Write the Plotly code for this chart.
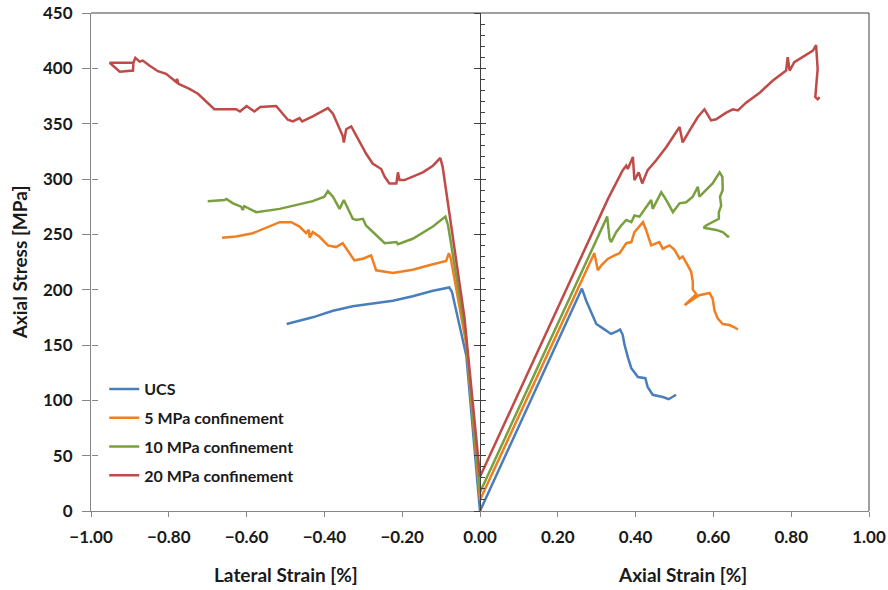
"""
Stress-strain curves: lateral strain (left) and axial strain (right)
"""

import plotly.graph_objects as go

# ---- data ----
series_names = ['UCS', '5 MPa confinement', '10 MPa confinement', '20 MPa confinement']
series_colors = ['#4A7EBB', '#F07F22', '#7A9F3F', '#BE4B48']

# lateral strain branch, from the far end back to zero
ucs_lat_x = [-0.497, -0.430, -0.378, -0.327, -0.224, -0.173, -0.121, -0.079, -0.072, -0.035, 0.0]
ucs_lat_y = [169, 175, 181, 185, 190, 194, 199, 202, 198, 140, 0]
c5_lat_x = [-0.663, -0.627, -0.584, -0.550, -0.515, -0.485, -0.464, -0.447, -0.440, -0.438, -0.430,
            -0.413, -0.391, -0.370, -0.353, -0.323, -0.301, -0.280, -0.267, -0.224, -0.173, -0.121,
            -0.087, -0.080, -0.075, -0.035, 0.0]
c5_lat_y = [247, 248, 251, 256, 261, 261, 257, 251, 254, 247, 252,
            248, 240, 238.5, 242, 226.5, 228, 231, 217.5, 215, 218, 223,
            226, 233, 228, 150, 10]
c10_lat_x = [-0.700, -0.657, -0.652, -0.635, -0.614, -0.610, -0.606, -0.575, -0.515, -0.430, -0.400,
             -0.391, -0.378, -0.361, -0.350, -0.327, -0.318, -0.301, -0.293, -0.276, -0.245, -0.215,
             -0.211, -0.173, -0.121, -0.089, -0.082, -0.037, 0.0]
c10_lat_y = [280, 281, 282, 278, 275, 272, 275.5, 270, 273, 280, 284,
             289, 284, 273, 281, 264, 263, 264, 258, 252, 242, 243,
             241, 246, 257, 266, 258, 160, 17]
c20_lat_x = [-0.892, -0.952, -0.926, -0.892, -0.891, -0.886, -0.875, -0.867, -0.850, -0.828, -0.807,
             -0.781, -0.779, -0.775, -0.747, -0.725, -0.683, -0.627, -0.617, -0.600, -0.580, -0.565,
             -0.524, -0.494, -0.481, -0.464, -0.457, -0.430, -0.391, -0.378, -0.353, -0.350, -0.344,
             -0.331, -0.293, -0.276, -0.254, -0.245, -0.233, -0.215, -0.211, -0.207, -0.194, -0.147,
             -0.121, -0.102, -0.096, -0.091, -0.040, 0.0]
c20_lat_y = [405, 405, 397, 398, 405, 409.5, 406, 407, 402.5, 397.4, 395,
             387.6, 390.5, 386, 381.5, 377, 363, 363, 361, 366, 361, 365,
             366, 353.5, 352, 355, 352, 356.5, 364, 359, 339, 333, 345,
             347.5, 323, 314, 309, 302, 296, 296, 306, 299, 299, 306,
             312, 319, 311, 299, 175, 31]

# axial strain branch, from zero outwards
ucs_ax_x = [0.0, 0.262, 0.273, 0.286, 0.299, 0.316, 0.337, 0.350, 0.360, 0.367, 0.371,
            0.380, 0.389, 0.406, 0.425, 0.431, 0.444, 0.470, 0.485, 0.504]
ucs_ax_y = [0, 201, 190, 180, 169, 165, 160, 162, 164, 159, 151,
            139, 129, 121, 120, 112, 105, 103, 101, 105]
c5_ax_x = [0.0, 0.294, 0.303, 0.312, 0.329, 0.346, 0.359, 0.376, 0.389, 0.397, 0.410,
           0.419, 0.427, 0.440, 0.461, 0.470, 0.487, 0.500, 0.513, 0.521, 0.534, 0.543,
           0.547, 0.547, 0.556, 0.530, 0.526, 0.551, 0.564, 0.590, 0.598, 0.603, 0.611,
           0.624, 0.641, 0.654, 0.663]
c5_ax_y = [10, 233, 217.5, 222, 228, 231, 233, 242, 243, 252, 257,
           261, 254, 240, 243, 237, 240, 236, 228, 230, 222, 216,
           207, 200, 196, 187.5, 186, 192, 195, 197, 192, 181, 174,
           169, 168, 166, 164]
c10_ax_x = [0.0, 0.327, 0.333, 0.337, 0.350, 0.363, 0.376, 0.389, 0.397, 0.410, 0.427,
            0.440, 0.444, 0.466, 0.479, 0.496, 0.513, 0.530, 0.547, 0.560, 0.564, 0.581,
            0.598, 0.616, 0.623, 0.624, 0.617, 0.620, 0.614, 0.614, 0.598, 0.581, 0.575,
            0.590, 0.607, 0.624, 0.637, 0.641]
c10_ax_y = [17, 266, 246, 243, 252, 258, 263, 261, 267, 266, 275,
            281, 273, 288, 281, 270, 278, 279, 284, 293, 284, 290,
            296, 306, 302, 290, 284, 276, 270, 264, 261, 258, 256,
            255, 254, 252, 248, 248]
c20_ax_x = [0.0, 0.329, 0.367, 0.376, 0.380, 0.393, 0.397, 0.408, 0.417, 0.431, 0.453,
            0.474, 0.479, 0.513, 0.521, 0.539, 0.560, 0.577, 0.594, 0.607, 0.633, 0.650,
            0.663, 0.684, 0.719, 0.753, 0.787, 0.791, 0.796, 0.808, 0.856, 0.864, 0.868,
            0.862, 0.868, 0.873]
c20_ax_y = [31, 282, 308, 312, 309, 320, 299, 306, 296, 308, 317,
            326, 329, 347, 333, 344, 356, 363, 353, 354, 360, 363,
            362, 369, 378, 389, 398, 410, 398, 405.5, 416, 421, 399.5,
            374, 372, 374]

x_tickvals = [-1.0, -0.8, -0.6, -0.4, -0.2, 0.0, 0.2, 0.4, 0.6, 0.8, 1.0]
y_range = [0, 450]

FONT = 'Lato'
TEXT = '#1a1a1a'


def create_stress_strain_plot() -> go.Figure:
    """Lateral and axial strain curves on one shared stress axis"""
    fig = go.Figure()

    lateral = [(ucs_lat_x, ucs_lat_y), (c5_lat_x, c5_lat_y), (c10_lat_x, c10_lat_y), (c20_lat_x, c20_lat_y)]
    axial = [(ucs_ax_x, ucs_ax_y), (c5_ax_x, c5_ax_y), (c10_ax_x, c10_ax_y), (c20_ax_x, c20_ax_y)]
    # every y axis has the same fixed range, so the series can be spread over them
    # (an overlaid axis is only drawn when something is plotted on it)
    y_refs = ['y', 'y2', 'y3', 'y4']

    for i, name in enumerate(series_names):
        lx, ly = lateral[i]
        ax, ay = axial[i]
        fig.add_trace(
            go.Scatter(
                x=list(lx) + list(ax),
                y=list(ly) + list(ay),
                yaxis=y_refs[i],
                mode='lines',
                name=name,
                legendgroup=name,
                line=dict(color=series_colors[i], width=2.5),
            )
        )

    tick_font = dict(family=FONT, size=17, color=TEXT, weight='bold')
    title_font = dict(family=FONT, size=19, color=TEXT, weight='bold')

    fig.update_layout(
        width=888,
        height=590,
        margin=dict(l=91, r=19, t=13, b=79),
        plot_bgcolor='white',
        paper_bgcolor='white',
        font=dict(family=FONT, color=TEXT),
        showlegend=True,
        legend=dict(
            x=0.017,
            y=0.279,
            xanchor='left',
            yanchor='top',
            bgcolor='rgba(0,0,0,0)',
            font=dict(family=FONT, size=16, color=TEXT, weight='bold'),
            tracegroupgap=5,
            itemwidth=30,
        ),
        xaxis=dict(
            range=[-1, 1],
            tickvals=x_tickvals,
            tickformat='.2f',
            ticks='outside',
            ticklen=5,
            tickcolor='#868686',
            showline=True,
            linecolor='#868686',
            linewidth=1,
            showgrid=False,
            zeroline=False,
            tickfont=tick_font,
            ticklabelstandoff=6,
            automargin=False,
        ),
        yaxis=dict(
            range=y_range,
            dtick=50,
            ticks='outside',
            ticklen=8,
            tickcolor='#868686',
            showline=True,
            linecolor='#868686',
            linewidth=1,
            showgrid=False,
            zeroline=False,
            tickfont=tick_font,
            ticklabelstandoff=6,
            automargin=False,
            title=dict(text='Axial Stress [MPa]', font=title_font, standoff=10),
        ),
        # center axis at strain = 0: right half of the major ticks plus minor ticks
        yaxis2=dict(
            overlaying='y',
            anchor='free',
            position=0.5,
            side='left',
            range=y_range,
            dtick=50,
            ticks='inside',
            ticklen=5,
            tickcolor='#404040',
            showline=True,
            linecolor='#404040',
            linewidth=1,
            showticklabels=False,
            showgrid=False,
            zeroline=False,
            automargin=False,
            minor=dict(dtick=10, ticks='inside', ticklen=4, tickcolor='#404040'),
        ),
        # left half of the center axis major ticks
        yaxis3=dict(
            overlaying='y',
            anchor='free',
            position=0.5,
            side='left',
            range=y_range,
            dtick=50,
            ticks='outside',
            ticklen=6,
            tickcolor='#404040',
            showline=False,
            showticklabels=False,
            showgrid=False,
            zeroline=False,
            automargin=False,
        ),
        # inner half of the left axis major ticks
        yaxis4=dict(
            overlaying='y',
            anchor='free',
            position=0,
            side='left',
            range=y_range,
            dtick=50,
            ticks='inside',
            ticklen=6,
            tickcolor='#868686',
            showline=False,
            showticklabels=False,
            showgrid=False,
            zeroline=False,
            automargin=False,
        ),
        shapes=[
            dict(type='line', xref='paper', yref='paper', x0=0, x1=1, y0=1, y1=1,
                 line=dict(color='#404040', width=1)),
            dict(type='line', xref='paper', yref='paper', x0=1, x1=1, y0=0, y1=1,
                 line=dict(color='#404040', width=1)),
        ],
        annotations=[
            dict(text='Lateral Strain [%]', x=-0.5, xref='x', y=-0.128, yref='paper',
                 showarrow=False, xanchor='center', yanchor='middle', font=title_font),
            dict(text='Axial Strain [%]', x=0.52, xref='x', y=-0.128, yref='paper',
                 showarrow=False, xanchor='center', yanchor='middle', font=title_font),
        ],
    )

    return fig


fig = create_stress_strain_plot()
# drop the default 8px page margin so the figure fills the window exactly
fig.write_html(
    "out.html",
    config={'displayModeBar': False},
    post_script="document.body.style.margin = '0';",
)
